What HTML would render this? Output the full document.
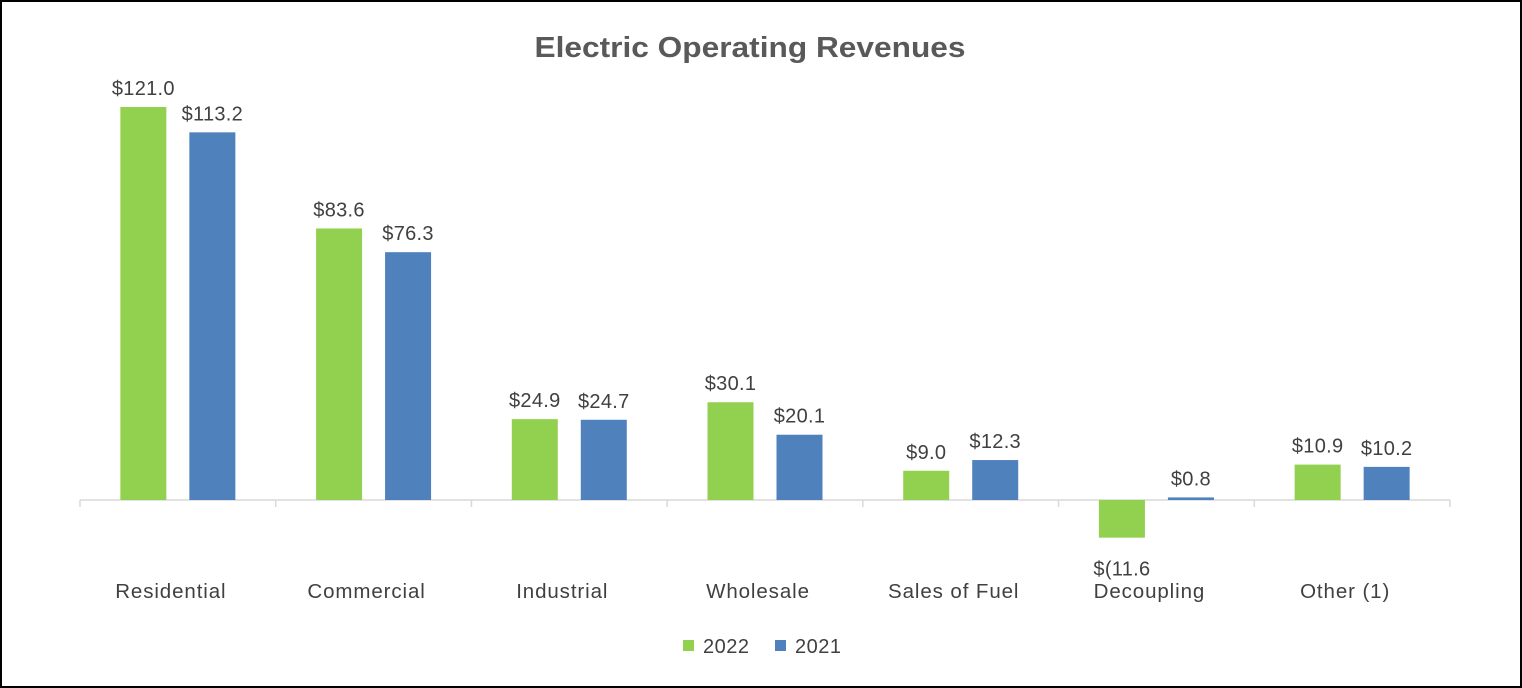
<!DOCTYPE html>
<html><head><meta charset="utf-8">
<style>
html,body{margin:0;padding:0;background:#fff;}
svg{display:block;font-family:"Liberation Sans",Arial,sans-serif;}
</style></head>
<body>
<svg id="chart" width="1522" height="688" viewBox="0 0 1522 688">
<rect x="1" y="1" width="1520" height="686" fill="#fff" stroke="#000" stroke-width="2"/>
<text x="750" y="57" text-anchor="middle" font-size="29" font-weight="bold" fill="#595959" textLength="431" lengthAdjust="spacingAndGlyphs">Electric Operating Revenues</text>
<g id="plot"></g>
<g>
<rect x="683" y="640" width="11" height="11" fill="#92D050"/>
<text x="703" y="653" font-size="20" fill="#404040" letter-spacing="0.5">2022</text>
<rect x="775" y="640" width="11" height="11" fill="#4F81BD"/>
<text x="795" y="653" font-size="20" fill="#404040" letter-spacing="0.5">2021</text>
</g>
</svg>
<script>
const categories = ["Residential","Commercial","Industrial","Wholesale","Sales of Fuel","Decoupling","Other (1)"];
const values2022 = [121.0, 83.6, 24.9, 30.1, 9.0, -11.6, 10.9];
const values2021 = [113.2, 76.3, 24.7, 20.1, 12.3, 0.8, 10.2];
const labels2022 = ["$121.0","$83.6","$24.9","$30.1","$9.0","$(11.6","$10.9"];
const labels2021 = ["$113.2","$76.3","$24.7","$20.1","$12.3","$0.8","$10.2"];

const NS = "http://www.w3.org/2000/svg";
const plot = document.getElementById("plot");
const x0 = 80, x1 = 1450, baseY = 500, scale = 393/121;
const band = (x1 - x0) / categories.length;
const xCenter = i => x0 + band * (i + 0.5);
const yVal = v => baseY - v * scale;
function mk(tag, attrs){ const e = document.createElementNS(NS, tag); for (const k in attrs) e.setAttribute(k, attrs[k]); plot.appendChild(e); return e; }

const axis = mk("line", {x1:x0, y1:baseY, x2:x1, y2:baseY, stroke:"#d9d9d9", "stroke-width":1.5});


for (let i = 0; i <= categories.length; i++) {
  const t = mk("line", {x1:x0 + band*i, y1:baseY, x2:x0 + band*i, y2:baseY+7, stroke:"#d9d9d9", "stroke-width":1.5});
  
  
}
const series = [
  {vals: values2022, labels: labels2022, color:"#92D050", off:-34.5, name:"2022"},
  {vals: values2021, labels: labels2021, color:"#4F81BD", off:34.5, name:"2021"}
];
const bw = 46;
categories.forEach((c, i) => {
  const cx = xCenter(i);
  series.forEach(s => {
    const v = s.vals[i];
    const y = Math.min(yVal(v), baseY), h = Math.abs(yVal(v) - baseY);
    const r = mk("rect", {x: cx + s.off - bw/2, y: y, width: bw, height: Math.max(h, 1.5), fill: s.color});
    
    
    const ly = v >= 0 ? yVal(v) - 12 : yVal(v) + 38;
    const t = mk("text", {x: cx + s.off, y: ly, "text-anchor":"middle", "font-size":20, fill:"#404040", "letter-spacing":0.3});
    t.textContent = s.labels[i];
    
    
  });
  const cl = mk("text", {x: cx - 7, y: 598, "text-anchor":"middle", "font-size":20.5, fill:"#404040", "letter-spacing":0.9});
  cl.textContent = c;
  
  
});
</script>
</body></html>
